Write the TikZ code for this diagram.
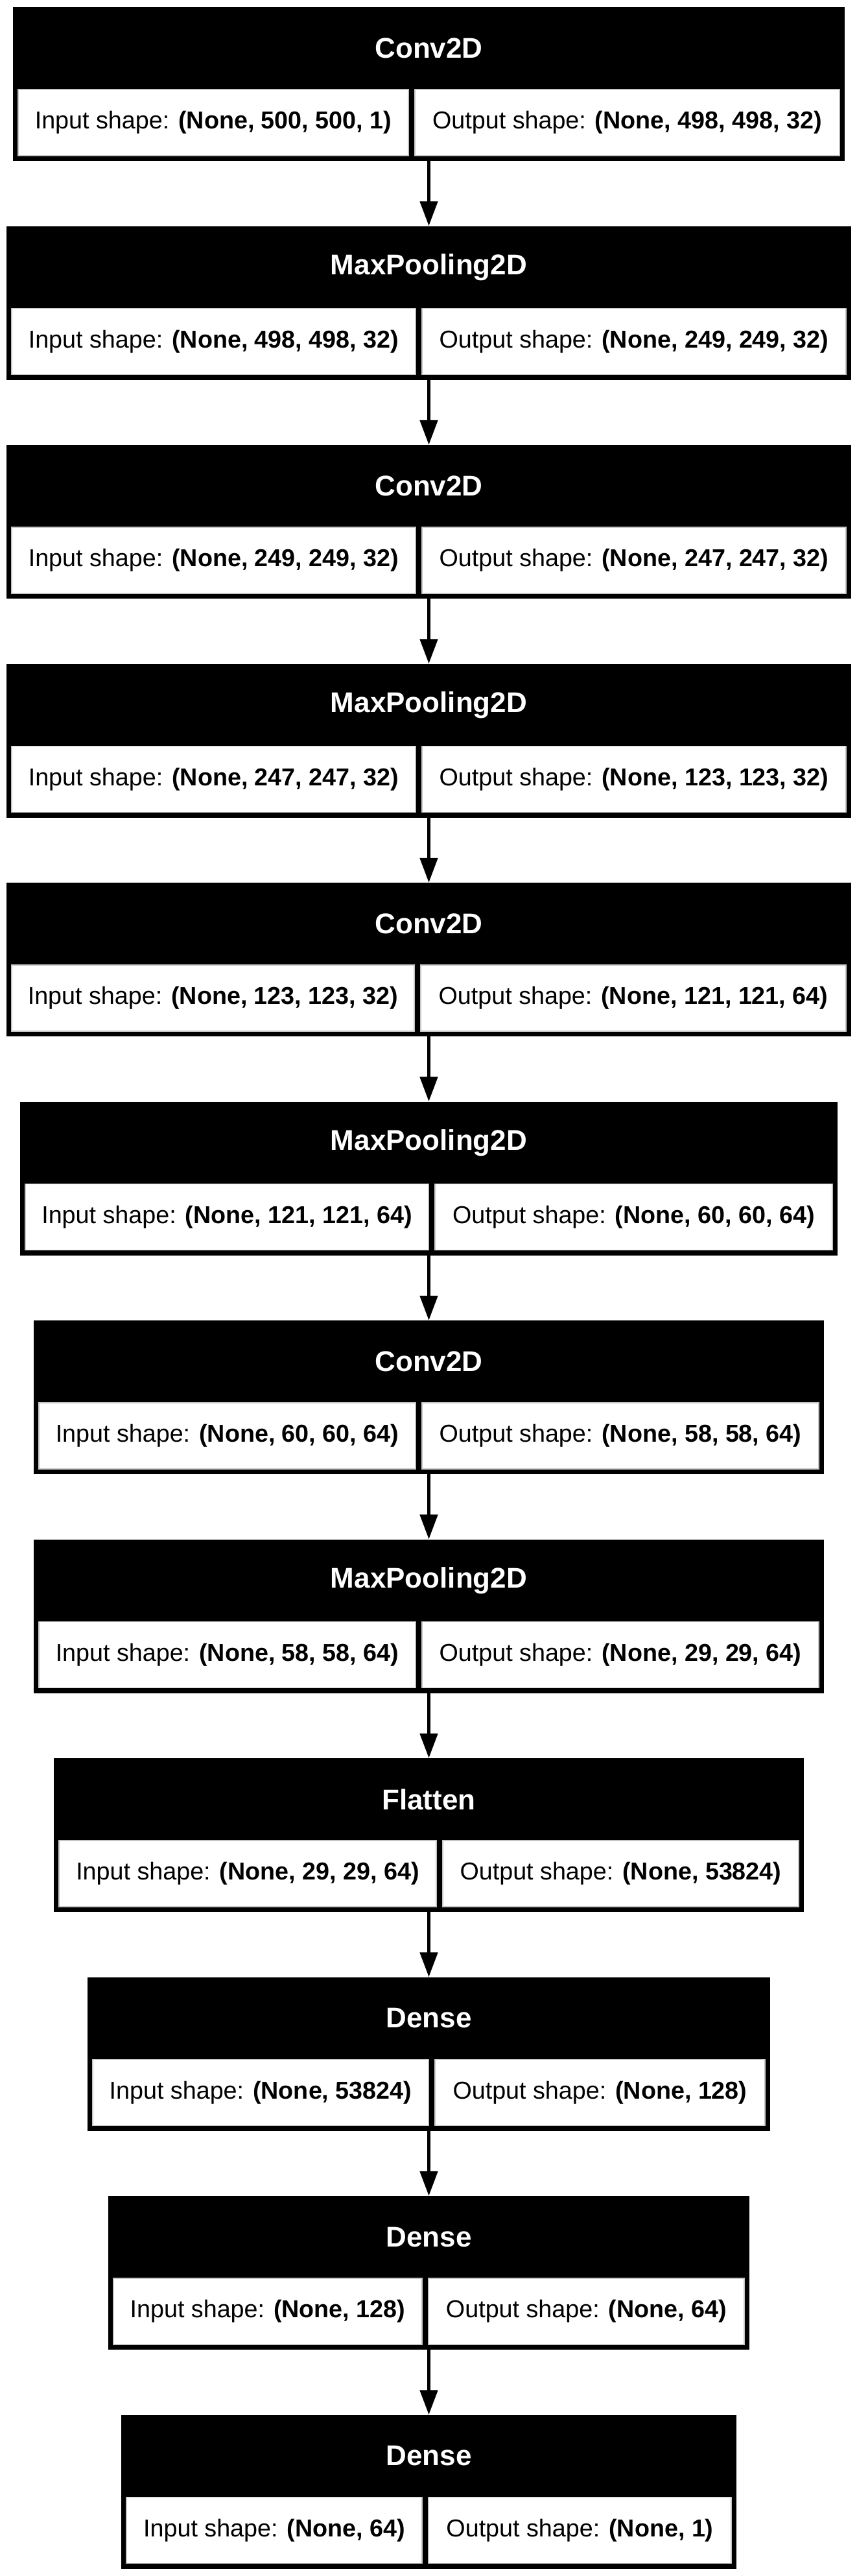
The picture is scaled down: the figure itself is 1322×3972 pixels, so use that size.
\documentclass[tikz,border=0pt]{standalone}
\usepackage{fontspec}
\setmainfont{Liberation Sans}
\usepackage{tikz}
\usetikzlibrary{arrows.meta, positioning, calc}

\begin{document}
\begin{tikzpicture}[
  x=1pt, y=-1pt,
  layerbox/.style={
    rectangle, fill=black, draw=none, inner sep=0pt,
    minimum height=237pt
  },
  headtext/.style={
    text=white, inner sep=0pt,
    font=\fontsize{44}{52}\selectfont\bfseries
  },
  cellbox/.style={
    rectangle, fill=white, draw=gray!45, line width=1.5pt,
    inner sep=0pt, minimum height=102pt,
    font=\fontsize{37.7}{45}\selectfont
  },
  flow/.style={-{Triangle[length=38pt, width=27pt]}, line width=5pt}
]

% ---- canvas ----
\path[fill=white, use as bounding box] (0,0) rectangle (1322,3972);

% ---- layers: index / left edge / divider / name / input / output ----
\foreach \i/\l/\d/\title/\inp/\outp in {
  1/20/635/Conv2D/{(None, 500, 500, 1)}/{(None, 498, 498, 32)},
  2/10/646/MaxPooling2D/{(None, 498, 498, 32)}/{(None, 249, 249, 32)},
  3/10/646/Conv2D/{(None, 249, 249, 32)}/{(None, 247, 247, 32)},
  4/10/646/MaxPooling2D/{(None, 247, 247, 32)}/{(None, 123, 123, 32)},
  5/10/644/Conv2D/{(None, 123, 123, 32)}/{(None, 121, 121, 64)},
  6/31/666/MaxPooling2D/{(None, 121, 121, 64)}/{(None, 60, 60, 64)},
  7/52/646/Conv2D/{(None, 60, 60, 64)}/{(None, 58, 58, 64)},
  8/52/646/MaxPooling2D/{(None, 58, 58, 64)}/{(None, 29, 29, 64)},
  9/83/678/Flatten/{(None, 29, 29, 64)}/{(None, 53824)},
  10/135/666/Dense/{(None, 53824)}/{(None, 128)},
  11/167/656/Dense/{(None, 128)}/{(None, 64)},
  12/187/656/Dense/{(None, 64)}/{(None, 1)}%
} {
  \pgfmathsetmacro\t{11+(\i-1)*337.5}
  \pgfmathsetmacro\r{1323-\l}
  \pgfmathsetmacro\wbox{\r-\l}
  \pgfmathsetmacro\win{\d-\l-13}
  \pgfmathsetmacro\wout{\r-\d-13}
  \node[layerbox, minimum width=\wbox pt] (L\i) at (661.5,\t+118.5) {};
  \node[headtext] (h\i) at (661.5,\t+63.5) {\title};
  \node[cellbox, minimum width=\win pt] (in\i) at ({(\l+\d+3)/2},\t+178) {Input shape: \textbf{\inp}};
  \node[cellbox, minimum width=\wout pt] (out\i) at ({(\d+\r-3)/2},\t+178) {Output shape: \textbf{\outp}};
}

% ---- connections between layers ----
\foreach \i [evaluate=\i as \j using int(\i+1)] in {1,...,11} {
  \draw[flow] (L\i.south) -- (L\j.north);
}

\end{tikzpicture}
\end{document}
